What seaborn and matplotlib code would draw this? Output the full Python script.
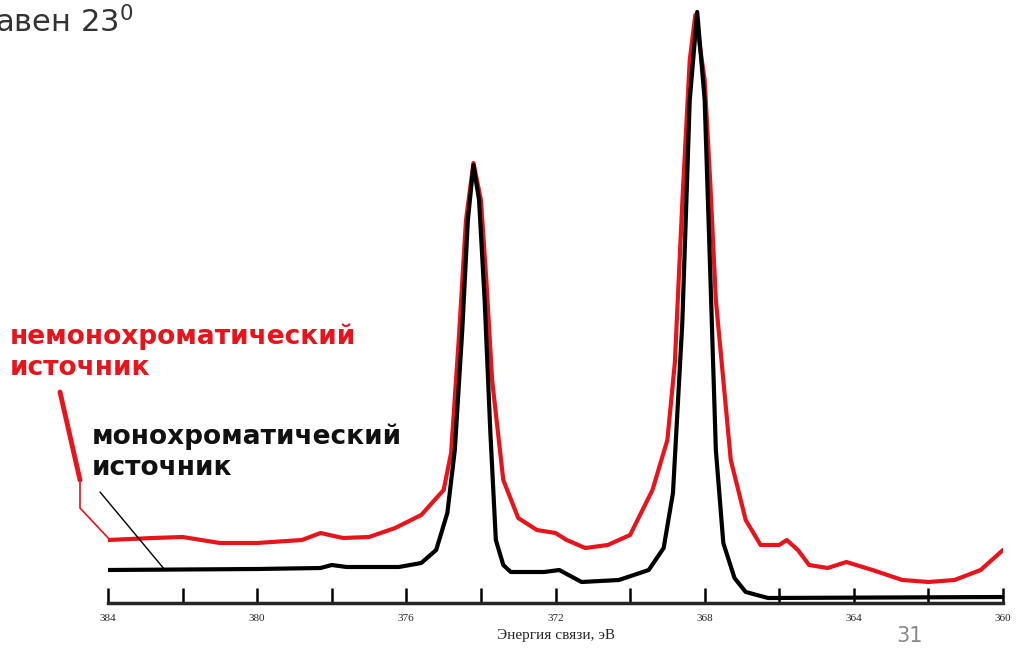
import numpy as np
import matplotlib
matplotlib.use("Agg")
import matplotlib.pyplot as plt
import seaborn as sns
from matplotlib.lines import Line2D

sns.set_style("white")
plt.rcParams['font.family'] = ['DejaVu Sans']

black_e = [384, 380, 378.3, 378.0, 377.6, 376.2, 375.6, 375.2, 374.9, 374.7, 374.5, 374.35, 374.2, 374.05, 373.9, 373.75, 373.6, 373.4, 373.2, 372.3, 371.9, 371.3, 370.3, 369.5, 369.1, 368.85, 368.6, 368.4, 368.2, 368.0, 367.85, 367.7, 367.5, 367.2, 366.9, 366.3, 360]
black_h = [33, 34, 35, 38, 36, 36, 40, 53, 90, 153, 273, 383, 438, 403, 303, 173, 63, 38, 31, 31, 33, 21, 23, 33, 55, 110, 280, 503, 591, 503, 330, 153, 60, 25, 11, 5, 6]

red_e = [384, 382.8, 382, 381, 380, 378.8, 378.3, 377.7, 377, 376.3, 375.6, 375.0, 374.8, 374.6, 374.4, 374.2, 374.0, 373.85, 373.7, 373.4, 373.0, 372.5, 372.0, 371.7, 371.2, 370.6, 370.3, 370.0, 369.8, 369.4, 369.0, 368.8, 368.6, 368.4, 368.25, 368.0, 367.85, 367.7, 367.3, 366.9, 366.5, 366.0, 365.8, 365.5, 365.2, 364.7, 364.2, 363.5, 362.7, 362, 361.3, 360.6, 360]
red_h = [63, 65, 66, 60, 60, 63, 70, 65, 66, 75, 88, 113, 150, 260, 383, 440, 403, 320, 223, 123, 85, 73, 70, 63, 55, 58, 63, 68, 83, 113, 163, 240, 400, 543, 588, 523, 420, 303, 143, 83, 58, 58, 63, 53, 38, 35, 41, 33, 23, 21, 23, 33, 53]

ticks = list(range(384, 359, -2))
tick_labels = ["384", "", "380", "", "376", "", "372", "", "368", "", "364", "", "360"]

W, H = 1021, 659
fig = plt.figure(figsize=(W/100, H/100), dpi=100)
ax = fig.add_axes([108/W, 56/H, 895/W, 603/H])
sns.lineplot(x=red_e, y=red_h, ax=ax, color="#e8141b", lw=3, sort=False)
sns.lineplot(x=black_e, y=black_h, ax=ax, color="black", lw=3, sort=False)
ax.set_xlim(384, 360)
ax.set_ylim(0, 603)
for s in ["top", "left", "right"]:
    ax.spines[s].set_visible(False)
ax.spines["bottom"].set_linewidth(2.5)
ax.set_yticks([])
ax.set_xticks(ticks)
ax.set_xticklabels(tick_labels, family="Liberation Serif", fontsize=8)
ax.tick_params(axis="x", bottom=True, direction="in", length=11, width=1.8, pad=8, color="black")
ax.set_xlabel("Энергия связи, эВ", family="Liberation Serif", fontsize=11, labelpad=4)

def fx(x): return x / W
def fy(y): return 1 - y / H

fig.text(fx(-5), fy(22), "авен 23$^0$", fontsize=22, color="#333333", va="center")
fig.text(fx(10), fy(352), "немонохроматический\nисточник", fontsize=19, fontweight="bold", color="#e8141b", va="center", linespacing=1.25)
fig.text(fx(92), fy(452), "монохроматический\nисточник", fontsize=19, fontweight="bold", color="#111111", va="center", linespacing=1.25)
fig.text(fx(910), fy(636), "31", fontsize=15, color="#888888", va="center", ha="center")

fig.add_artist(Line2D([fx(60), fx(80)], [fy(392), fy(480)], color="#e8141b", lw=3.5))
fig.add_artist(Line2D([fx(80), fx(80), fx(110)], [fy(480), fy(508), fy(540)], color="#e8141b", lw=1.2))
fig.add_artist(Line2D([fx(100), fx(165)], [fy(492), fy(570)], color="black", lw=1.0))

fig.savefig("out.png", dpi=100)
